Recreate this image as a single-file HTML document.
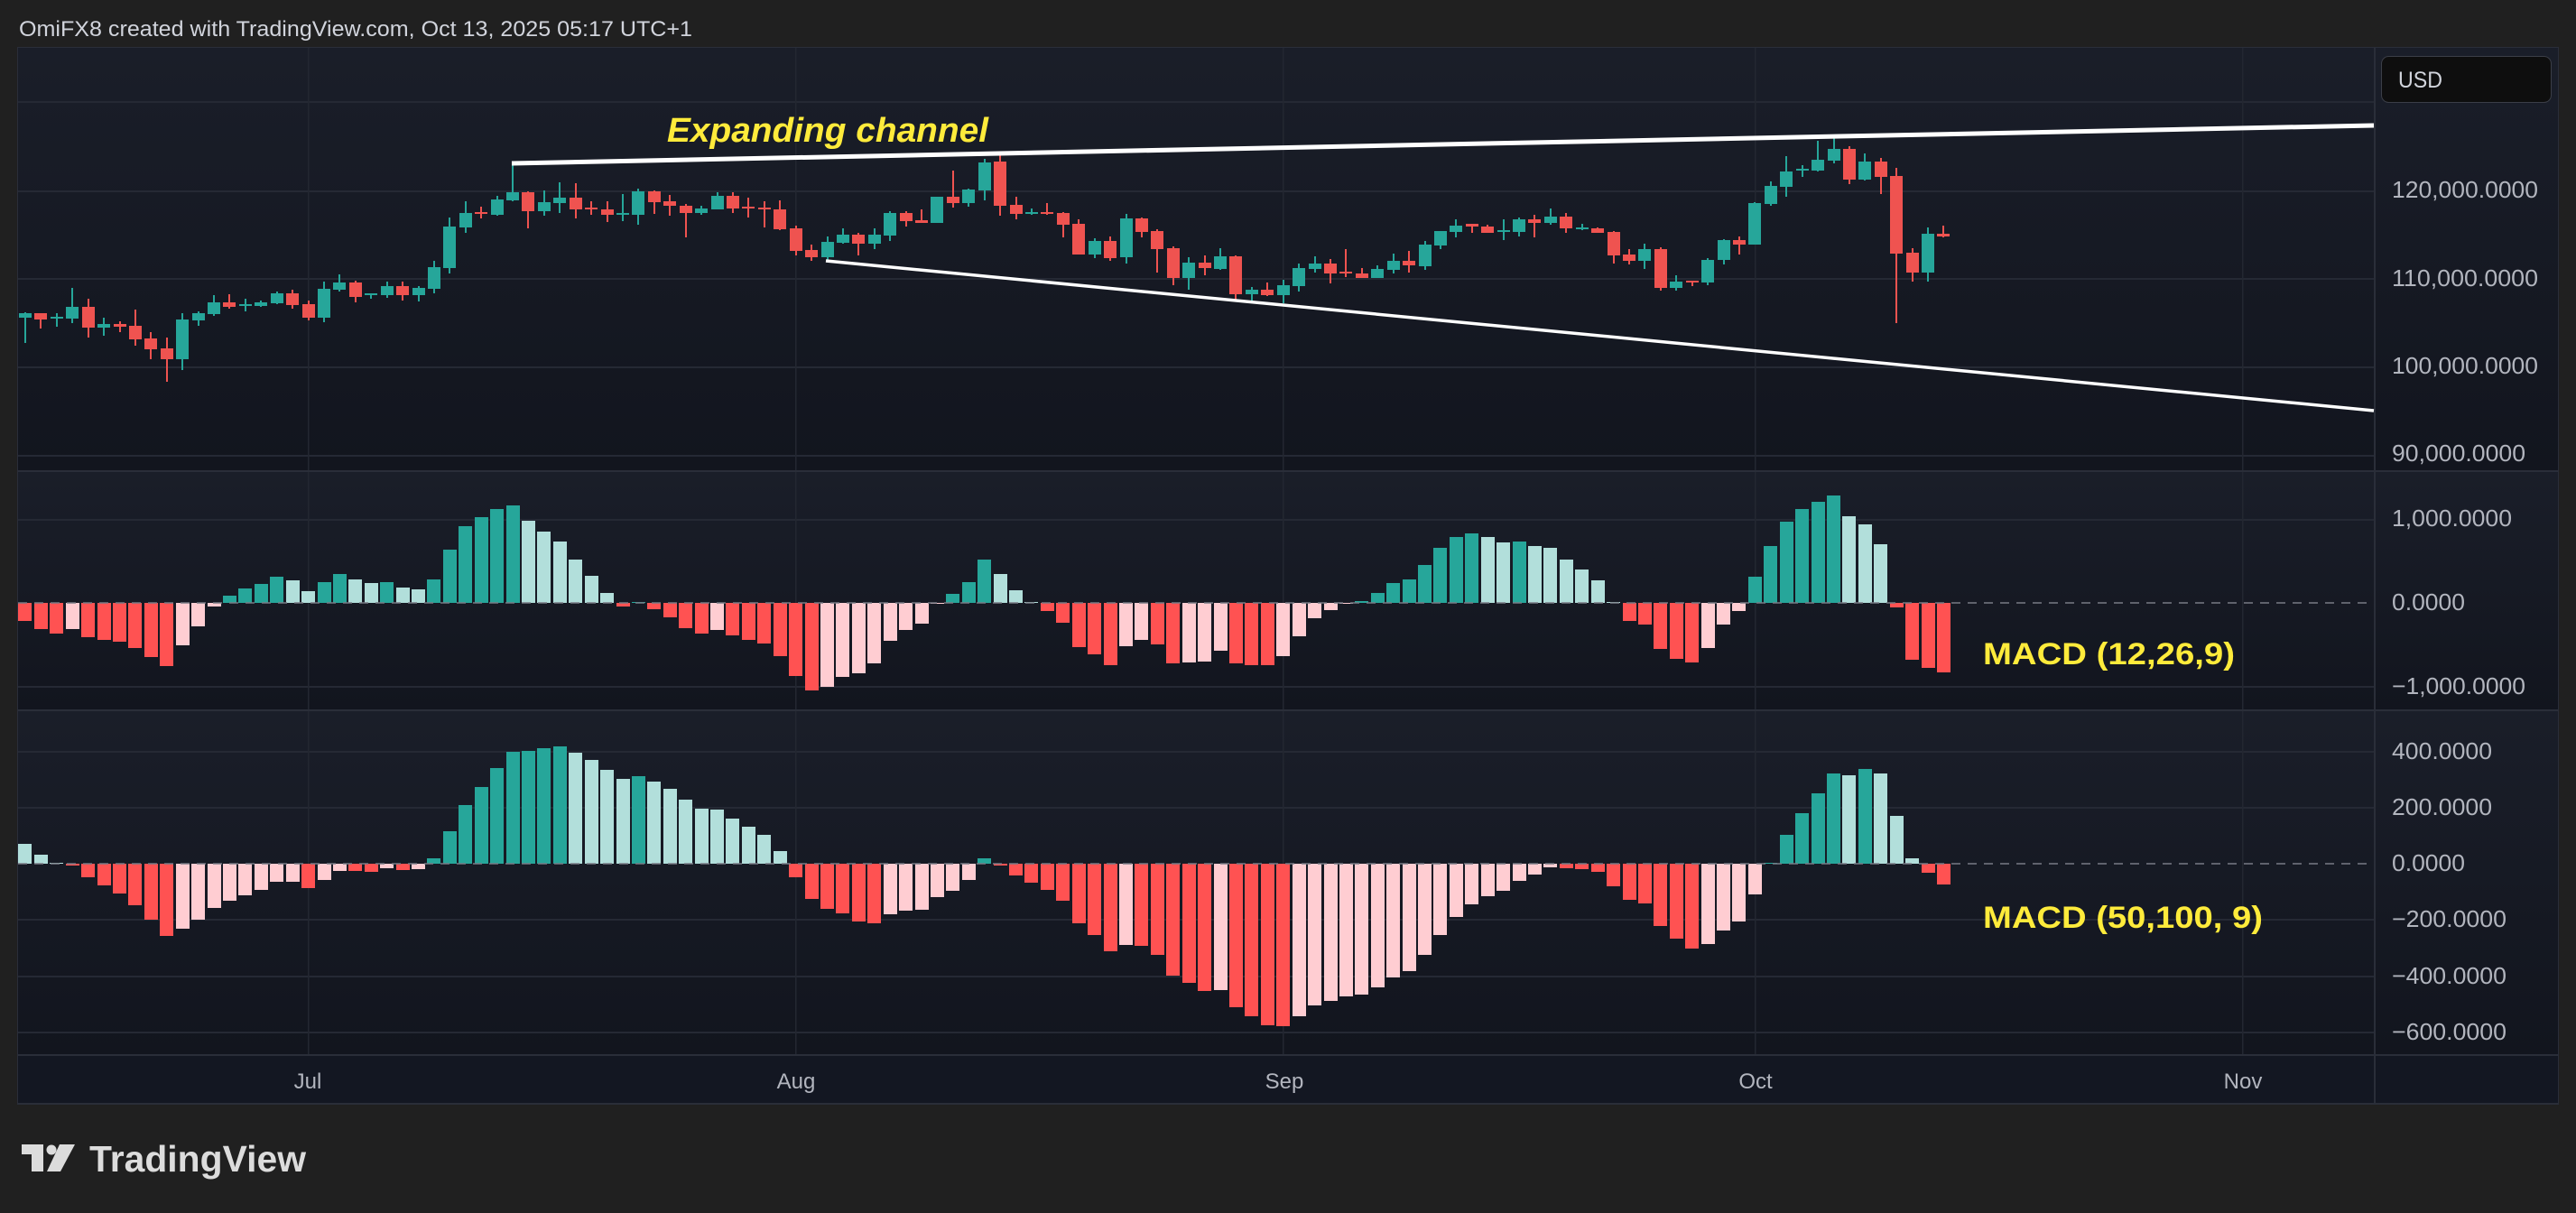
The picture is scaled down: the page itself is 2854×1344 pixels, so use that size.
<!DOCTYPE html>
<html>
<head>
<meta charset="utf-8">
<style>
html,body{margin:0;padding:0;background:#202020;}
body{width:2854px;height:1344px;position:relative;overflow:hidden;font-family:"Liberation Sans",sans-serif;}
svg.bg,svg.o{position:absolute;left:0;top:0;}
.s{position:absolute;left:19.29px;top:0;display:flex;height:1344px;}
.s>div{position:relative;flex:0 0 17.426px;width:17.426px;height:1344px;}
.s i,.s b{position:absolute;display:block;}
.k i{left:7.71px;width:2px;}
.k b{left:1.71px;width:14px;}
.h b{left:1.21px;width:15px;}
.g i,.g b{background:#26a69a;}
.r i,.r b{background:#ef5350;}
.G b{background:#26a69a;}
.L b{background:#b2dfdb;}
.R b{background:#ff5252;}
.P b{background:#ffcdd2;}
</style>
</head>
<body>
<svg class="bg" width="2854" height="1344" viewBox="0 0 2854 1344">
<defs>
<linearGradient id="pg" x1="0" y1="0" x2="0" y2="1">
<stop offset="0" stop-color="#1a1e29"/>
<stop offset="1" stop-color="#12151e"/>
</linearGradient>
</defs>
<rect x="0" y="0" width="2854" height="1344" fill="#202020"/>
<rect x="19" y="52" width="2816" height="1172" fill="#2a2e39"/>
<rect x="20" y="53" width="2814" height="468" fill="url(#pg)"/>
<rect x="20" y="523" width="2814" height="263" fill="url(#pg)"/>
<rect x="20" y="788" width="2814" height="380" fill="url(#pg)"/>
<rect x="20" y="1170" width="2814" height="52" fill="#131722"/>
<g fill="#252934">
<rect x="20" y="112" width="2610" height="2"/>
<rect x="20" y="211" width="2610" height="2"/>
<rect x="20" y="308" width="2610" height="2"/>
<rect x="20" y="406" width="2610" height="2"/>
<rect x="20" y="504" width="2610" height="2"/>
<rect x="20" y="575" width="2610" height="2"/>
<rect x="20" y="760" width="2610" height="2"/>
<rect x="20" y="832" width="2610" height="2"/>
<rect x="20" y="894" width="2610" height="2"/>
<rect x="20" y="1018" width="2610" height="2"/>
<rect x="20" y="1081" width="2610" height="2"/>
<rect x="20" y="1143" width="2610" height="2"/>
</g>
<g fill="#232731">
<rect x="341" y="53" width="1.5" height="1115"/>
<rect x="881" y="53" width="1.5" height="1115"/>
<rect x="1421" y="53" width="1.5" height="1115"/>
<rect x="1944" y="53" width="1.5" height="1115"/>
<rect x="2484" y="53" width="1.5" height="1115"/>
</g>
<rect x="20" y="521" width="2814" height="2" fill="#2a2e39"/>
<rect x="20" y="786" width="2814" height="2" fill="#2a2e39"/>
<rect x="20" y="1168" width="2814" height="2" fill="#2a2e39"/>
<rect x="2630" y="53" width="2" height="1169" fill="#2a2e39"/>
</svg>

<div class="s k">
<div class="g"><i style="top:346px;height:34px"></i><b style="top:347px;height:5px"></b></div>
<div class="r"><i style="top:347px;height:17px"></i><b style="top:347px;height:7px"></b></div>
<div class="g"><i style="top:347px;height:15px"></i><b style="top:351px;height:2px"></b></div>
<div class="g"><i style="top:319px;height:39px"></i><b style="top:340px;height:13px"></b></div>
<div class="r"><i style="top:331px;height:43px"></i><b style="top:340px;height:23px"></b></div>
<div class="g"><i style="top:352px;height:20px"></i><b style="top:359px;height:4px"></b></div>
<div class="r"><i style="top:356px;height:12px"></i><b style="top:359px;height:3px"></b></div>
<div class="r"><i style="top:343px;height:40px"></i><b style="top:361px;height:15px"></b></div>
<div class="r"><i style="top:368px;height:30px"></i><b style="top:375px;height:12px"></b></div>
<div class="r"><i style="top:374px;height:49px"></i><b style="top:386px;height:12px"></b></div>
<div class="g"><i style="top:347px;height:63px"></i><b style="top:354px;height:44px"></b></div>
<div class="g"><i style="top:345px;height:16px"></i><b style="top:347px;height:8px"></b></div>
<div class="g"><i style="top:327px;height:23px"></i><b style="top:335px;height:13px"></b></div>
<div class="r"><i style="top:326px;height:16px"></i><b style="top:335px;height:5px"></b></div>
<div class="g"><i style="top:331px;height:14px"></i><b style="top:337px;height:2px"></b></div>
<div class="g"><i style="top:333px;height:7px"></i><b style="top:335px;height:4px"></b></div>
<div class="g"><i style="top:323px;height:14px"></i><b style="top:325px;height:11px"></b></div>
<div class="r"><i style="top:321px;height:21px"></i><b style="top:325px;height:13px"></b></div>
<div class="r"><i style="top:333px;height:22px"></i><b style="top:337px;height:15px"></b></div>
<div class="g"><i style="top:312px;height:45px"></i><b style="top:320px;height:32px"></b></div>
<div class="g"><i style="top:304px;height:19px"></i><b style="top:313px;height:8px"></b></div>
<div class="r"><i style="top:311px;height:24px"></i><b style="top:313px;height:16px"></b></div>
<div class="g"><i style="top:325px;height:6px"></i><b style="top:325px;height:2px"></b></div>
<div class="g"><i style="top:312px;height:18px"></i><b style="top:317px;height:10px"></b></div>
<div class="r"><i style="top:312px;height:21px"></i><b style="top:317px;height:10px"></b></div>
<div class="g"><i style="top:317px;height:17px"></i><b style="top:319px;height:8px"></b></div>
<div class="g"><i style="top:289px;height:36px"></i><b style="top:296px;height:24px"></b></div>
<div class="g"><i style="top:241px;height:62px"></i><b style="top:251px;height:46px"></b></div>
<div class="g"><i style="top:223px;height:35px"></i><b style="top:236px;height:16px"></b></div>
<div class="r"><i style="top:229px;height:13px"></i><b style="top:235px;height:2px"></b></div>
<div class="g"><i style="top:217px;height:22px"></i><b style="top:221px;height:17px"></b></div>
<div class="g"><i style="top:181px;height:42px"></i><b style="top:213px;height:9px"></b></div>
<div class="r"><i style="top:212px;height:41px"></i><b style="top:213px;height:21px"></b></div>
<div class="g"><i style="top:211px;height:28px"></i><b style="top:224px;height:10px"></b></div>
<div class="g"><i style="top:202px;height:34px"></i><b style="top:219px;height:6px"></b></div>
<div class="r"><i style="top:203px;height:39px"></i><b style="top:219px;height:13px"></b></div>
<div class="r"><i style="top:223px;height:15px"></i><b style="top:230px;height:2px"></b></div>
<div class="r"><i style="top:223px;height:23px"></i><b style="top:232px;height:6px"></b></div>
<div class="g"><i style="top:215px;height:30px"></i><b style="top:236px;height:2px"></b></div>
<div class="g"><i style="top:209px;height:40px"></i><b style="top:212px;height:26px"></b></div>
<div class="r"><i style="top:211px;height:26px"></i><b style="top:212px;height:12px"></b></div>
<div class="r"><i style="top:216px;height:23px"></i><b style="top:223px;height:5px"></b></div>
<div class="r"><i style="top:226px;height:37px"></i><b style="top:228px;height:8px"></b></div>
<div class="g"><i style="top:228px;height:10px"></i><b style="top:231px;height:5px"></b></div>
<div class="g"><i style="top:213px;height:19px"></i><b style="top:217px;height:15px"></b></div>
<div class="r"><i style="top:213px;height:23px"></i><b style="top:217px;height:14px"></b></div>
<div class="r"><i style="top:219px;height:22px"></i><b style="top:229px;height:2px"></b></div>
<div class="r"><i style="top:223px;height:29px"></i><b style="top:230px;height:2px"></b></div>
<div class="r"><i style="top:222px;height:33px"></i><b style="top:232px;height:22px"></b></div>
<div class="r"><i style="top:250px;height:33px"></i><b style="top:253px;height:25px"></b></div>
<div class="r"><i style="top:271px;height:18px"></i><b style="top:277px;height:8px"></b></div>
<div class="g"><i style="top:262px;height:26px"></i><b style="top:268px;height:17px"></b></div>
<div class="g"><i style="top:253px;height:17px"></i><b style="top:260px;height:9px"></b></div>
<div class="r"><i style="top:258px;height:25px"></i><b style="top:260px;height:10px"></b></div>
<div class="g"><i style="top:253px;height:23px"></i><b style="top:260px;height:10px"></b></div>
<div class="g"><i style="top:234px;height:33px"></i><b style="top:236px;height:25px"></b></div>
<div class="r"><i style="top:234px;height:17px"></i><b style="top:236px;height:9px"></b></div>
<div class="r"><i style="top:232px;height:15px"></i><b style="top:244px;height:3px"></b></div>
<div class="g"><i style="top:218px;height:29px"></i><b style="top:218px;height:29px"></b></div>
<div class="r"><i style="top:189px;height:41px"></i><b style="top:218px;height:7px"></b></div>
<div class="g"><i style="top:209px;height:20px"></i><b style="top:210px;height:15px"></b></div>
<div class="g"><i style="top:176px;height:46px"></i><b style="top:180px;height:31px"></b></div>
<div class="r"><i style="top:170px;height:69px"></i><b style="top:179px;height:49px"></b></div>
<div class="r"><i style="top:218px;height:25px"></i><b style="top:227px;height:10px"></b></div>
<div class="g"><i style="top:231px;height:7px"></i><b style="top:235px;height:2px"></b></div>
<div class="r"><i style="top:225px;height:13px"></i><b style="top:235px;height:2px"></b></div>
<div class="r"><i style="top:235px;height:28px"></i><b style="top:236px;height:13px"></b></div>
<div class="r"><i style="top:243px;height:39px"></i><b style="top:248px;height:34px"></b></div>
<div class="g"><i style="top:264px;height:22px"></i><b style="top:267px;height:15px"></b></div>
<div class="r"><i style="top:262px;height:27px"></i><b style="top:267px;height:19px"></b></div>
<div class="g"><i style="top:237px;height:55px"></i><b style="top:242px;height:43px"></b></div>
<div class="r"><i style="top:241px;height:22px"></i><b style="top:242px;height:15px"></b></div>
<div class="r"><i style="top:254px;height:48px"></i><b style="top:256px;height:20px"></b></div>
<div class="r"><i style="top:273px;height:43px"></i><b style="top:275px;height:33px"></b></div>
<div class="g"><i style="top:285px;height:36px"></i><b style="top:291px;height:17px"></b></div>
<div class="r"><i style="top:283px;height:22px"></i><b style="top:291px;height:6px"></b></div>
<div class="g"><i style="top:275px;height:24px"></i><b style="top:284px;height:14px"></b></div>
<div class="r"><i style="top:283px;height:51px"></i><b style="top:284px;height:42px"></b></div>
<div class="g"><i style="top:318px;height:16px"></i><b style="top:321px;height:5px"></b></div>
<div class="r"><i style="top:313px;height:15px"></i><b style="top:321px;height:6px"></b></div>
<div class="g"><i style="top:310px;height:26px"></i><b style="top:316px;height:11px"></b></div>
<div class="g"><i style="top:292px;height:31px"></i><b style="top:297px;height:20px"></b></div>
<div class="g"><i style="top:284px;height:18px"></i><b style="top:292px;height:6px"></b></div>
<div class="r"><i style="top:287px;height:27px"></i><b style="top:292px;height:11px"></b></div>
<div class="r"><i style="top:276px;height:31px"></i><b style="top:301px;height:2px"></b></div>
<div class="r"><i style="top:297px;height:11px"></i><b style="top:303px;height:5px"></b></div>
<div class="g"><i style="top:294px;height:14px"></i><b style="top:298px;height:10px"></b></div>
<div class="g"><i style="top:281px;height:22px"></i><b style="top:289px;height:10px"></b></div>
<div class="r"><i style="top:278px;height:24px"></i><b style="top:289px;height:5px"></b></div>
<div class="g"><i style="top:267px;height:32px"></i><b style="top:271px;height:24px"></b></div>
<div class="g"><i style="top:256px;height:20px"></i><b style="top:256px;height:16px"></b></div>
<div class="g"><i style="top:243px;height:20px"></i><b style="top:250px;height:7px"></b></div>
<div class="r"><i style="top:248px;height:10px"></i><b style="top:248px;height:3px"></b></div>
<div class="r"><i style="top:249px;height:9px"></i><b style="top:251px;height:7px"></b></div>
<div class="g"><i style="top:243px;height:23px"></i><b style="top:255px;height:2px"></b></div>
<div class="g"><i style="top:241px;height:21px"></i><b style="top:243px;height:14px"></b></div>
<div class="r"><i style="top:238px;height:25px"></i><b style="top:243px;height:4px"></b></div>
<div class="g"><i style="top:231px;height:18px"></i><b style="top:240px;height:7px"></b></div>
<div class="r"><i style="top:236px;height:22px"></i><b style="top:240px;height:13px"></b></div>
<div class="g"><i style="top:248px;height:7px"></i><b style="top:252px;height:2px"></b></div>
<div class="r"><i style="top:252px;height:6px"></i><b style="top:253px;height:5px"></b></div>
<div class="r"><i style="top:256px;height:36px"></i><b style="top:257px;height:26px"></b></div>
<div class="r"><i style="top:276px;height:17px"></i><b style="top:282px;height:7px"></b></div>
<div class="g"><i style="top:270px;height:28px"></i><b style="top:276px;height:13px"></b></div>
<div class="r"><i style="top:274px;height:48px"></i><b style="top:276px;height:43px"></b></div>
<div class="g"><i style="top:305px;height:17px"></i><b style="top:312px;height:7px"></b></div>
<div class="r"><i style="top:311px;height:6px"></i><b style="top:311px;height:2px"></b></div>
<div class="g"><i style="top:286px;height:30px"></i><b style="top:288px;height:25px"></b></div>
<div class="g"><i style="top:265px;height:28px"></i><b style="top:266px;height:22px"></b></div>
<div class="r"><i style="top:262px;height:20px"></i><b style="top:266px;height:5px"></b></div>
<div class="g"><i style="top:224px;height:47px"></i><b style="top:225px;height:46px"></b></div>
<div class="g"><i style="top:201px;height:27px"></i><b style="top:206px;height:20px"></b></div>
<div class="g"><i style="top:173px;height:45px"></i><b style="top:190px;height:17px"></b></div>
<div class="g"><i style="top:183px;height:13px"></i><b style="top:187px;height:2px"></b></div>
<div class="g"><i style="top:156px;height:34px"></i><b style="top:177px;height:12px"></b></div>
<div class="g"><i style="top:151px;height:30px"></i><b style="top:165px;height:13px"></b></div>
<div class="r"><i style="top:162px;height:42px"></i><b style="top:165px;height:34px"></b></div>
<div class="g"><i style="top:170px;height:30px"></i><b style="top:179px;height:20px"></b></div>
<div class="r"><i style="top:175px;height:40px"></i><b style="top:179px;height:17px"></b></div>
<div class="r"><i style="top:186px;height:172px"></i><b style="top:195px;height:86px"></b></div>
<div class="r"><i style="top:275px;height:37px"></i><b style="top:280px;height:22px"></b></div>
<div class="g"><i style="top:252px;height:60px"></i><b style="top:259px;height:43px"></b></div>
<div class="r"><i style="top:250px;height:13px"></i><b style="top:259px;height:3px"></b></div>
</div>

<div class="s h">
<div class="R"><b style="top:668px;height:20px"></b></div>
<div class="R"><b style="top:668px;height:29px"></b></div>
<div class="R"><b style="top:668px;height:34px"></b></div>
<div class="P"><b style="top:668px;height:29px"></b></div>
<div class="R"><b style="top:668px;height:38px"></b></div>
<div class="R"><b style="top:668px;height:41px"></b></div>
<div class="R"><b style="top:668px;height:43px"></b></div>
<div class="R"><b style="top:668px;height:50px"></b></div>
<div class="R"><b style="top:668px;height:60px"></b></div>
<div class="R"><b style="top:668px;height:70px"></b></div>
<div class="P"><b style="top:668px;height:47px"></b></div>
<div class="P"><b style="top:668px;height:26px"></b></div>
<div class="P"><b style="top:668px;height:4px"></b></div>
<div class="G"><b style="top:660px;height:8px"></b></div>
<div class="G"><b style="top:652px;height:16px"></b></div>
<div class="G"><b style="top:647px;height:21px"></b></div>
<div class="G"><b style="top:639px;height:29px"></b></div>
<div class="L"><b style="top:643px;height:25px"></b></div>
<div class="L"><b style="top:655px;height:13px"></b></div>
<div class="G"><b style="top:645px;height:23px"></b></div>
<div class="G"><b style="top:636px;height:32px"></b></div>
<div class="L"><b style="top:642px;height:26px"></b></div>
<div class="L"><b style="top:646px;height:22px"></b></div>
<div class="G"><b style="top:645px;height:23px"></b></div>
<div class="L"><b style="top:651px;height:17px"></b></div>
<div class="L"><b style="top:653px;height:15px"></b></div>
<div class="G"><b style="top:642px;height:26px"></b></div>
<div class="G"><b style="top:609px;height:59px"></b></div>
<div class="G"><b style="top:583px;height:85px"></b></div>
<div class="G"><b style="top:573px;height:95px"></b></div>
<div class="G"><b style="top:564px;height:104px"></b></div>
<div class="G"><b style="top:560px;height:108px"></b></div>
<div class="L"><b style="top:577px;height:91px"></b></div>
<div class="L"><b style="top:589px;height:79px"></b></div>
<div class="L"><b style="top:600px;height:68px"></b></div>
<div class="L"><b style="top:620px;height:48px"></b></div>
<div class="L"><b style="top:638px;height:30px"></b></div>
<div class="L"><b style="top:657px;height:11px"></b></div>
<div class="R"><b style="top:668px;height:4px"></b></div>
<div class="G"><b style="top:667px;height:1px"></b></div>
<div class="R"><b style="top:668px;height:7px"></b></div>
<div class="R"><b style="top:668px;height:16px"></b></div>
<div class="R"><b style="top:668px;height:28px"></b></div>
<div class="R"><b style="top:668px;height:34px"></b></div>
<div class="P"><b style="top:668px;height:30px"></b></div>
<div class="R"><b style="top:668px;height:36px"></b></div>
<div class="R"><b style="top:668px;height:41px"></b></div>
<div class="R"><b style="top:668px;height:45px"></b></div>
<div class="R"><b style="top:668px;height:59px"></b></div>
<div class="R"><b style="top:668px;height:81px"></b></div>
<div class="R"><b style="top:668px;height:97px"></b></div>
<div class="P"><b style="top:668px;height:93px"></b></div>
<div class="P"><b style="top:668px;height:82px"></b></div>
<div class="P"><b style="top:668px;height:78px"></b></div>
<div class="P"><b style="top:668px;height:67px"></b></div>
<div class="P"><b style="top:668px;height:42px"></b></div>
<div class="P"><b style="top:668px;height:30px"></b></div>
<div class="P"><b style="top:668px;height:23px"></b></div>
<div class="P"><b style="top:668px;height:1px"></b></div>
<div class="G"><b style="top:658px;height:10px"></b></div>
<div class="G"><b style="top:645px;height:23px"></b></div>
<div class="G"><b style="top:620px;height:48px"></b></div>
<div class="L"><b style="top:636px;height:32px"></b></div>
<div class="L"><b style="top:654px;height:14px"></b></div>
<div class="L"><b style="top:667px;height:1px"></b></div>
<div class="R"><b style="top:668px;height:9px"></b></div>
<div class="R"><b style="top:668px;height:22px"></b></div>
<div class="R"><b style="top:668px;height:49px"></b></div>
<div class="R"><b style="top:668px;height:57px"></b></div>
<div class="R"><b style="top:668px;height:69px"></b></div>
<div class="P"><b style="top:668px;height:48px"></b></div>
<div class="P"><b style="top:668px;height:41px"></b></div>
<div class="R"><b style="top:668px;height:46px"></b></div>
<div class="R"><b style="top:668px;height:67px"></b></div>
<div class="P"><b style="top:668px;height:66px"></b></div>
<div class="P"><b style="top:668px;height:65px"></b></div>
<div class="P"><b style="top:668px;height:53px"></b></div>
<div class="R"><b style="top:668px;height:67px"></b></div>
<div class="R"><b style="top:668px;height:69px"></b></div>
<div class="R"><b style="top:668px;height:69px"></b></div>
<div class="P"><b style="top:668px;height:59px"></b></div>
<div class="P"><b style="top:668px;height:37px"></b></div>
<div class="P"><b style="top:668px;height:17px"></b></div>
<div class="P"><b style="top:668px;height:8px"></b></div>
<div class="P"><b style="top:668px;height:1px"></b></div>
<div class="G"><b style="top:666px;height:2px"></b></div>
<div class="G"><b style="top:657px;height:11px"></b></div>
<div class="G"><b style="top:646px;height:22px"></b></div>
<div class="G"><b style="top:642px;height:26px"></b></div>
<div class="G"><b style="top:626px;height:42px"></b></div>
<div class="G"><b style="top:607px;height:61px"></b></div>
<div class="G"><b style="top:595px;height:73px"></b></div>
<div class="G"><b style="top:591px;height:77px"></b></div>
<div class="L"><b style="top:595px;height:73px"></b></div>
<div class="L"><b style="top:601px;height:67px"></b></div>
<div class="G"><b style="top:600px;height:68px"></b></div>
<div class="L"><b style="top:605px;height:63px"></b></div>
<div class="L"><b style="top:607px;height:61px"></b></div>
<div class="L"><b style="top:620px;height:48px"></b></div>
<div class="L"><b style="top:631px;height:37px"></b></div>
<div class="L"><b style="top:643px;height:25px"></b></div>
<div class="L"><b style="top:667px;height:1px"></b></div>
<div class="R"><b style="top:668px;height:20px"></b></div>
<div class="R"><b style="top:668px;height:24px"></b></div>
<div class="R"><b style="top:668px;height:51px"></b></div>
<div class="R"><b style="top:668px;height:62px"></b></div>
<div class="R"><b style="top:668px;height:66px"></b></div>
<div class="P"><b style="top:668px;height:50px"></b></div>
<div class="P"><b style="top:668px;height:24px"></b></div>
<div class="P"><b style="top:668px;height:9px"></b></div>
<div class="G"><b style="top:639px;height:29px"></b></div>
<div class="G"><b style="top:605px;height:63px"></b></div>
<div class="G"><b style="top:578px;height:90px"></b></div>
<div class="G"><b style="top:564px;height:104px"></b></div>
<div class="G"><b style="top:556px;height:112px"></b></div>
<div class="G"><b style="top:549px;height:119px"></b></div>
<div class="L"><b style="top:572px;height:96px"></b></div>
<div class="L"><b style="top:581px;height:87px"></b></div>
<div class="L"><b style="top:603px;height:65px"></b></div>
<div class="R"><b style="top:668px;height:5px"></b></div>
<div class="R"><b style="top:668px;height:63px"></b></div>
<div class="R"><b style="top:668px;height:72px"></b></div>
<div class="R"><b style="top:668px;height:77px"></b></div>
</div>

<div class="s h">
<div class="L"><b style="top:935px;height:22px"></b></div>
<div class="L"><b style="top:947px;height:10px"></b></div>
<div class="L"><b style="top:956px;height:1px"></b></div>
<div class="R"><b style="top:957px;height:2px"></b></div>
<div class="R"><b style="top:957px;height:15px"></b></div>
<div class="R"><b style="top:957px;height:24px"></b></div>
<div class="R"><b style="top:957px;height:33px"></b></div>
<div class="R"><b style="top:957px;height:46px"></b></div>
<div class="R"><b style="top:957px;height:62px"></b></div>
<div class="R"><b style="top:957px;height:80px"></b></div>
<div class="P"><b style="top:957px;height:72px"></b></div>
<div class="P"><b style="top:957px;height:62px"></b></div>
<div class="P"><b style="top:957px;height:49px"></b></div>
<div class="P"><b style="top:957px;height:41px"></b></div>
<div class="P"><b style="top:957px;height:35px"></b></div>
<div class="P"><b style="top:957px;height:29px"></b></div>
<div class="P"><b style="top:957px;height:20px"></b></div>
<div class="P"><b style="top:957px;height:20px"></b></div>
<div class="R"><b style="top:957px;height:27px"></b></div>
<div class="P"><b style="top:957px;height:18px"></b></div>
<div class="P"><b style="top:957px;height:8px"></b></div>
<div class="R"><b style="top:957px;height:8px"></b></div>
<div class="R"><b style="top:957px;height:9px"></b></div>
<div class="P"><b style="top:957px;height:5px"></b></div>
<div class="R"><b style="top:957px;height:7px"></b></div>
<div class="P"><b style="top:957px;height:6px"></b></div>
<div class="G"><b style="top:951px;height:6px"></b></div>
<div class="G"><b style="top:921px;height:36px"></b></div>
<div class="G"><b style="top:892px;height:65px"></b></div>
<div class="G"><b style="top:872px;height:85px"></b></div>
<div class="G"><b style="top:851px;height:106px"></b></div>
<div class="G"><b style="top:833px;height:124px"></b></div>
<div class="G"><b style="top:832px;height:125px"></b></div>
<div class="G"><b style="top:829px;height:128px"></b></div>
<div class="G"><b style="top:827px;height:130px"></b></div>
<div class="L"><b style="top:834px;height:123px"></b></div>
<div class="L"><b style="top:842px;height:115px"></b></div>
<div class="L"><b style="top:853px;height:104px"></b></div>
<div class="L"><b style="top:863px;height:94px"></b></div>
<div class="G"><b style="top:860px;height:97px"></b></div>
<div class="L"><b style="top:866px;height:91px"></b></div>
<div class="L"><b style="top:874px;height:83px"></b></div>
<div class="L"><b style="top:886px;height:71px"></b></div>
<div class="L"><b style="top:896px;height:61px"></b></div>
<div class="L"><b style="top:897px;height:60px"></b></div>
<div class="L"><b style="top:907px;height:50px"></b></div>
<div class="L"><b style="top:916px;height:41px"></b></div>
<div class="L"><b style="top:925px;height:32px"></b></div>
<div class="L"><b style="top:943px;height:14px"></b></div>
<div class="R"><b style="top:957px;height:15px"></b></div>
<div class="R"><b style="top:957px;height:39px"></b></div>
<div class="R"><b style="top:957px;height:50px"></b></div>
<div class="R"><b style="top:957px;height:55px"></b></div>
<div class="R"><b style="top:957px;height:64px"></b></div>
<div class="R"><b style="top:957px;height:66px"></b></div>
<div class="P"><b style="top:957px;height:56px"></b></div>
<div class="P"><b style="top:957px;height:52px"></b></div>
<div class="P"><b style="top:957px;height:51px"></b></div>
<div class="P"><b style="top:957px;height:37px"></b></div>
<div class="P"><b style="top:957px;height:30px"></b></div>
<div class="P"><b style="top:957px;height:18px"></b></div>
<div class="G"><b style="top:951px;height:6px"></b></div>
<div class="R"><b style="top:957px;height:2px"></b></div>
<div class="R"><b style="top:957px;height:13px"></b></div>
<div class="R"><b style="top:957px;height:21px"></b></div>
<div class="R"><b style="top:957px;height:29px"></b></div>
<div class="R"><b style="top:957px;height:41px"></b></div>
<div class="R"><b style="top:957px;height:66px"></b></div>
<div class="R"><b style="top:957px;height:79px"></b></div>
<div class="R"><b style="top:957px;height:97px"></b></div>
<div class="P"><b style="top:957px;height:90px"></b></div>
<div class="R"><b style="top:957px;height:91px"></b></div>
<div class="R"><b style="top:957px;height:101px"></b></div>
<div class="R"><b style="top:957px;height:124px"></b></div>
<div class="R"><b style="top:957px;height:132px"></b></div>
<div class="R"><b style="top:957px;height:141px"></b></div>
<div class="P"><b style="top:957px;height:140px"></b></div>
<div class="R"><b style="top:957px;height:159px"></b></div>
<div class="R"><b style="top:957px;height:169px"></b></div>
<div class="R"><b style="top:957px;height:179px"></b></div>
<div class="R"><b style="top:957px;height:180px"></b></div>
<div class="P"><b style="top:957px;height:169px"></b></div>
<div class="P"><b style="top:957px;height:157px"></b></div>
<div class="P"><b style="top:957px;height:152px"></b></div>
<div class="P"><b style="top:957px;height:147px"></b></div>
<div class="P"><b style="top:957px;height:145px"></b></div>
<div class="P"><b style="top:957px;height:137px"></b></div>
<div class="P"><b style="top:957px;height:126px"></b></div>
<div class="P"><b style="top:957px;height:119px"></b></div>
<div class="P"><b style="top:957px;height:101px"></b></div>
<div class="P"><b style="top:957px;height:79px"></b></div>
<div class="P"><b style="top:957px;height:59px"></b></div>
<div class="P"><b style="top:957px;height:45px"></b></div>
<div class="P"><b style="top:957px;height:36px"></b></div>
<div class="P"><b style="top:957px;height:30px"></b></div>
<div class="P"><b style="top:957px;height:19px"></b></div>
<div class="P"><b style="top:957px;height:12px"></b></div>
<div class="P"><b style="top:957px;height:4px"></b></div>
<div class="R"><b style="top:957px;height:5px"></b></div>
<div class="R"><b style="top:957px;height:6px"></b></div>
<div class="R"><b style="top:957px;height:9px"></b></div>
<div class="R"><b style="top:957px;height:25px"></b></div>
<div class="R"><b style="top:957px;height:40px"></b></div>
<div class="R"><b style="top:957px;height:44px"></b></div>
<div class="R"><b style="top:957px;height:69px"></b></div>
<div class="R"><b style="top:957px;height:83px"></b></div>
<div class="R"><b style="top:957px;height:94px"></b></div>
<div class="P"><b style="top:957px;height:89px"></b></div>
<div class="P"><b style="top:957px;height:74px"></b></div>
<div class="P"><b style="top:957px;height:64px"></b></div>
<div class="P"><b style="top:957px;height:34px"></b></div>
<div class="G"><b style="top:956px;height:1px"></b></div>
<div class="G"><b style="top:925px;height:32px"></b></div>
<div class="G"><b style="top:901px;height:56px"></b></div>
<div class="G"><b style="top:879px;height:78px"></b></div>
<div class="G"><b style="top:857px;height:100px"></b></div>
<div class="L"><b style="top:859px;height:98px"></b></div>
<div class="G"><b style="top:852px;height:105px"></b></div>
<div class="L"><b style="top:857px;height:100px"></b></div>
<div class="L"><b style="top:904px;height:53px"></b></div>
<div class="L"><b style="top:951px;height:6px"></b></div>
<div class="R"><b style="top:957px;height:10px"></b></div>
<div class="R"><b style="top:957px;height:23px"></b></div>
</div>

<svg class="o" width="2854" height="1344" viewBox="0 0 2854 1344">
<line x1="20" y1="668" x2="2630" y2="668" stroke="#787b86" stroke-opacity="0.75" stroke-width="2" stroke-dasharray="10 8"/>
<line x1="20" y1="957" x2="2630" y2="957" stroke="#787b86" stroke-opacity="0.75" stroke-width="2" stroke-dasharray="10 8"/>
<line x1="567" y1="181" x2="2630" y2="139" stroke="#ffffff" stroke-width="5"/>
<line x1="915" y1="289" x2="2630" y2="455" stroke="#ffffff" stroke-width="3.5"/>

<g font-family="'Liberation Sans', sans-serif">
<text x="21" y="40" font-size="24" fill="#d1d4dc" textLength="746" lengthAdjust="spacingAndGlyphs">OmiFX8 created with TradingView.com, Oct 13, 2025 05:17 UTC+1</text>

<text x="739" y="157" font-size="38" font-weight="bold" font-style="italic" fill="#ffeb3b" textLength="356" lengthAdjust="spacingAndGlyphs">Expanding channel</text>
<text x="2197" y="736" font-size="34" font-weight="bold" fill="#ffeb3b" textLength="279" lengthAdjust="spacingAndGlyphs">MACD (12,26,9)</text>
<text x="2197" y="1028" font-size="34" font-weight="bold" fill="#ffeb3b" textLength="310" lengthAdjust="spacingAndGlyphs">MACD (50,100, 9)</text>

<g font-size="26" fill="#b2b5be">
<text x="2650" y="219" textLength="162" lengthAdjust="spacingAndGlyphs">120,000.0000</text>
<text x="2650" y="317" textLength="162" lengthAdjust="spacingAndGlyphs">110,000.0000</text>
<text x="2650" y="414" textLength="162" lengthAdjust="spacingAndGlyphs">100,000.0000</text>
<text x="2650" y="511" textLength="148" lengthAdjust="spacingAndGlyphs">90,000.0000</text>
<text x="2650" y="583" textLength="133" lengthAdjust="spacingAndGlyphs">1,000.0000</text>
<text x="2650" y="676" textLength="81" lengthAdjust="spacingAndGlyphs">0.0000</text>
<text x="2650" y="769" textLength="148" lengthAdjust="spacingAndGlyphs">−1,000.0000</text>
<text x="2650" y="841" textLength="111" lengthAdjust="spacingAndGlyphs">400.0000</text>
<text x="2650" y="903" textLength="111" lengthAdjust="spacingAndGlyphs">200.0000</text>
<text x="2650" y="965" textLength="81" lengthAdjust="spacingAndGlyphs">0.0000</text>
<text x="2650" y="1027" textLength="127" lengthAdjust="spacingAndGlyphs">−200.0000</text>
<text x="2650" y="1090" textLength="127" lengthAdjust="spacingAndGlyphs">−400.0000</text>
<text x="2650" y="1152" textLength="127" lengthAdjust="spacingAndGlyphs">−600.0000</text>
</g>

<g font-size="24" fill="#b2b5be" text-anchor="middle">
<text x="341" y="1206">Jul</text>
<text x="882" y="1206">Aug</text>
<text x="1423" y="1206">Sep</text>
<text x="1945" y="1206">Oct</text>
<text x="2485" y="1206">Nov</text>
</g>

<rect x="2638.5" y="62.5" width="188" height="51" rx="8" ry="8" fill="#0e0e0e" stroke="#3b3e47" stroke-width="1"/>
<text x="2657" y="97" font-size="25" fill="#d1d4dc" textLength="49" lengthAdjust="spacingAndGlyphs">USD</text>

<g fill="#dcdcdc">
<rect x="24" y="1268" width="24" height="11"/>
<rect x="35" y="1268" width="13" height="30"/>
<circle cx="57" cy="1274" r="5.5"/>
<polygon points="66,1268 83,1268 67,1298 52,1298"/>
</g>
<text x="99" y="1298" font-size="41" font-weight="bold" fill="#dcdcdc" textLength="240" lengthAdjust="spacingAndGlyphs">TradingView</text>
</g>
</svg>
</body>
</html>
